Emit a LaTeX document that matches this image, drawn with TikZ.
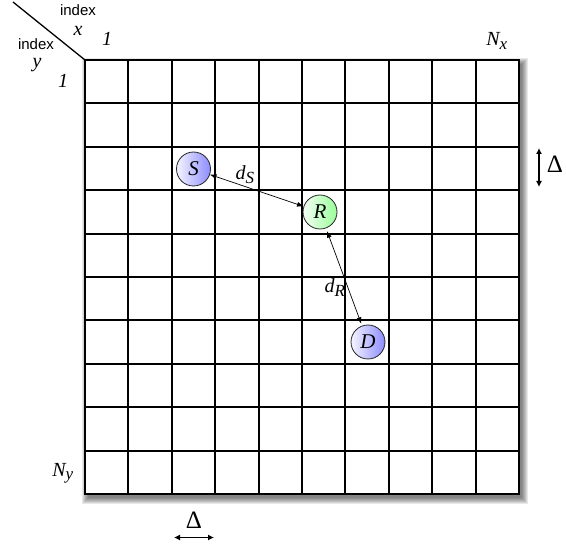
\documentclass[tikz,border=0pt]{standalone}
\usepackage{fontspec}
\setmainfont{Liberation Serif}
\newfontfamily\sansf{Liberation Sans}
\usetikzlibrary{arrows.meta,calc}
\begin{document}
\begin{tikzpicture}[x=1pt,y=-1pt,
  gridline/.style={line width=2.2pt,black},
  agent/.style={circle,draw=black!85,line width=0.8pt,minimum size=34pt,inner sep=0pt,
     font=\fontsize{21}{21}\selectfont\itshape},
  blueagent/.style={agent,left color=blue!4,right color=blue!45!white},
  greenagent/.style={agent,left color=green!4,right color=green!40!white},
  lbl/.style={font=\fontsize{20}{20}\selectfont\itshape,inner sep=0pt},
  idx/.style={font=\sansf\fontsize{15}{15}\selectfont,inner sep=0pt},
  dlt/.style={font=\fontsize{25}{25}\selectfont,inner sep=0pt},
  dist/.style={{Latex[length=6.5pt,width=5pt]}-{Latex[length=6.5pt,width=5pt]},line width=0.7pt},
  measure/.style={{Latex[length=6pt,width=6pt]}-{Latex[length=6pt,width=6pt]},line width=1.1pt},
  shadowlayer/.style={fill=black,fill opacity=0.09}
]
\useasboundingbox (0,0) rectangle (566,548);
% grid background with shadow
\coordinate (g0) at (85,60);
\coordinate (g1) at (519,494);
\foreach \r in {6,5,4,3,2,1,0} {
  \fill[shadowlayer] ($(g0)+(3-\r,4-\r)$) rectangle ($(g1)+(3+\r,4+\r)$);
}
\fill[white] (g0) rectangle (g1);
\foreach \i in {0,...,10} {
  \pgfmathsetmacro{\px}{round(85+43.4*\i)}
  \pgfmathsetmacro{\py}{round(60+43.4*\i)}
  \draw[gridline] (\px,60) -- (\px,494);
  \draw[gridline] (85,\py) -- (519,\py);
}
\draw[line width=2.8pt] (g0) rectangle (g1);
% corner header
\coordinate (c0) at (13,2);
\draw[line width=1.3pt] (c0) -- (g0);
\node[idx] (ix) at (78,10) {index};
\node[idx] (iy) at (36,44) {index};
\node[lbl] (lx) at (78,31) {x};
\node[lbl] (ly) at (37,65) {y};
\node[lbl] (one1) at (107,39) {1};
\node[lbl] (one2) at (63,81) {1};
\node[lbl] (nx) at (497,41) {N\textsubscript{\fontsize{17}{17}\selectfont x}};
\node[lbl] (ny) at (63,473) {N\textsubscript{\fontsize{17}{17}\selectfont y}};
% agents
\node[blueagent] (S) at (193.5,169) {S};
\node[greenagent] (R) at (320,212) {R};
\node[blueagent] (D) at (368,342) {D};
\draw[dist] (S) -- (R);
\draw[dist,shorten <=3pt,shorten >=2pt] (R) -- (D);
\node[lbl] (dS) at (245,175) {d\textsubscript{\fontsize{17}{17}\selectfont S}};
\node[lbl] (dR) at (335,288) {d\textsubscript{\fontsize{17}{17}\selectfont R}};
% Delta measures
\coordinate (va) at (539,148);
\coordinate (vb) at (539,187);
\draw[measure] (va) -- (vb);
\node[dlt] (dv) at (555,164) {Δ};
\coordinate (ha) at (174,537.5);
\coordinate (hb) at (214,537.5);
\draw[measure] (ha) -- (hb);
\node[dlt] (dh) at (194,520) {Δ};
\end{tikzpicture}
\end{document}
